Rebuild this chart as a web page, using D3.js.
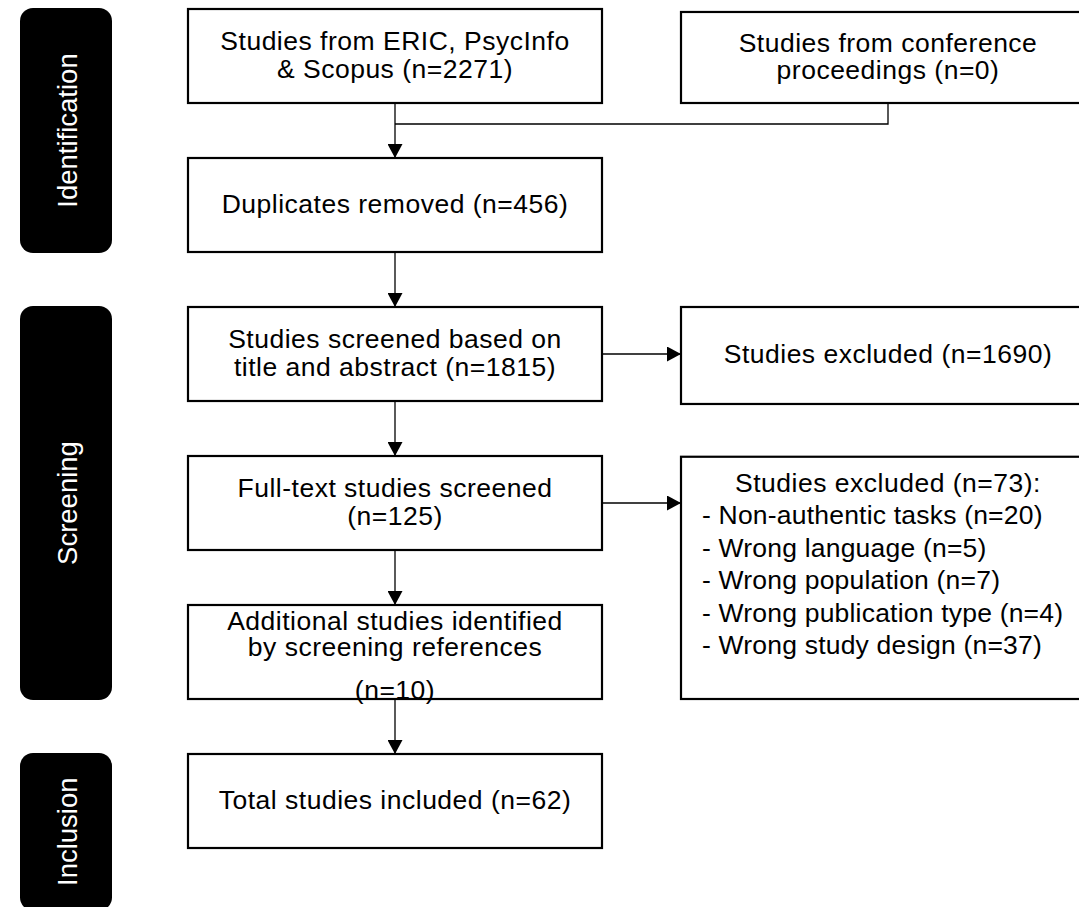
<!DOCTYPE html>
<html>
<head>
<meta charset="utf-8">
<script src="https://cdn.jsdelivr.net/npm/d3@7/dist/d3.min.js"></script>
<style>
  html, body { margin: 0; padding: 0; background: #ffffff; }
  svg { display: block; }
</style>
</head>
<body>
<svg id="chart" width="1079" height="907"></svg>
<script>
// ---------------- data ----------------
const stages = ["Identification", "Screening", "Inclusion"];
const stageRows = [[0, 1], [2, 4], [5, 6.05]];

const boxIds     = ["db", "conf", "dup", "screen", "excl1", "full", "excl2", "add", "incl"];
const boxCounts  = [2271, 0, 456, 1815, 1690, 125, 73, 10, 62];
const boxLines   = [
  ["Studies from ERIC, PsycInfo", "& Scopus (n=#)"],
  ["Studies from conference", "proceedings (n=#)"],
  ["Duplicates removed (n=#)"],
  ["Studies screened based on", "title and abstract (n=#)"],
  ["Studies excluded (n=#)"],
  ["Full-text studies screened", "(n=#)"],
  ["Studies excluded (n=#):"],
  ["Additional studies identified", "by screening references", "(n=#)"],
  ["Total studies included (n=#)"]
];
const boxColumn  = [0, 1, 0, 0, 1, 0, 1, 0, 0];
const boxRowFrom = [0, 0.02, 1, 2, 2, 3, 3.005, 4, 5];
const boxRowTo   = [0, 0, 1, 2, 2.02, 3, 4, 4, 5];

const exclusionReasons = ["Non-authentic tasks", "Wrong language", "Wrong population",
                          "Wrong publication type", "Wrong study design"];
const exclusionCounts  = [20, 5, 7, 4, 37];

// flow links: [from box, to box, type]
const links = [
  ["db", "dup", "down"],
  ["conf", "dup", "merge"],
  ["dup", "screen", "down"],
  ["screen", "full", "down"],
  ["full", "add", "down"],
  ["add", "incl", "down"],
  ["screen", "excl1", "right"],
  ["full", "excl2", "right"]
];

// ---------------- layout scales ----------------
const W = 1079, H = 907;
const FS = 26.5;
const LS = 0.5;
const FONT = "'Liberation Sans', Arial, Helvetica, sans-serif";
const rowY = d3.scaleLinear().domain([0, 5]).range([9, 754]);
const boxH = 94;
const colX = d3.scaleOrdinal().domain([0, 1]).range([188, 681]);
const boxW = 414;
const stageX = 20, stageW = 92;

const svg = d3.select("#chart");
svg.append("rect").attr("width", W).attr("height", H).attr("fill", "#fff");

const defs = svg.append("defs");
defs.append("marker").attr("id", "arr")
  .attr("viewBox", "0 0 14 15").attr("refX", 14).attr("refY", 7.5)
  .attr("markerWidth", 14).attr("markerHeight", 15)
  .attr("markerUnits", "userSpaceOnUse").attr("orient", "auto")
  .append("path").attr("d", "M0,0 L14,7.5 L0,15 Z").attr("fill", "#000");

// boxes geometry
const boxes = boxIds.map((id, i) => {
  const x = colX(boxColumn[i]);
  const y0 = rowY(boxRowFrom[i]);
  const y1 = rowY(boxRowTo[i]) + boxH;
  return { id, i, x, y: y0, w: boxW, h: y1 - y0, cx: x + boxW / 2, cy: (y0 + y1) / 2 };
});
const byId = Object.fromEntries(boxes.map(b => [b.id, b]));

// ---------------- stage pills ----------------
const pills = svg.append("g");
stages.forEach((s, i) => {
  const y0 = rowY(stageRows[i][0]) - 1;
  const y1 = i === 2 ? rowY(stageRows[i][1]) : rowY(stageRows[i][1]) + boxH + 1;
  pills.append("rect").attr("x", stageX).attr("y", y0)
    .attr("width", stageW).attr("height", y1 - y0)
    .attr("rx", 13).attr("ry", 13).attr("fill", "#000");
  const cx = stageX + stageW / 2 + 1, cy = (y0 + y1) / 2;
  pills.append("text")
    .attr("transform", `translate(${cx + 9.5},${cy}) rotate(-90)`)
    .attr("text-anchor", "middle")
    .attr("fill", "#fff").attr("font-family", FONT).attr("font-size", 27.5)
    .text(s);
});

// ---------------- links ----------------
const lg = svg.append("g").attr("stroke", "#000").attr("stroke-width", 1.3).attr("fill", "none");
const mergeY = byId.db.y + byId.db.h + 21;
links.forEach(([a, b, t]) => {
  const A = byId[a], B = byId[b];
  let d;
  if (t === "down") {
    d = d3.line()([[A.cx, A.y + A.h], [B.cx, B.y]]);
  } else if (t === "merge") {
    d = d3.line()([[A.cx, A.y + A.h], [A.cx, mergeY], [B.cx, mergeY]]);
  } else {
    d = d3.line()([[A.x + A.w, A.cy], [B.x, A.cy]]);
  }
  const p = lg.append("path").attr("d", d);
  if (t !== "merge") p.attr("marker-end", "url(#arr)");
});

// ---------------- boxes ----------------
const bg = svg.append("g");
boxes.forEach(b => {
  bg.append("rect").attr("x", b.x).attr("y", b.y).attr("width", b.w).attr("height", b.h)
    .attr("fill", "none").attr("stroke", "#000").attr("stroke-width", 2.2);
});

// ---------------- texts ----------------
const tg = svg.append("g").attr("font-family", FONT).attr("font-size", FS)
  .attr("letter-spacing", LS).attr("fill", "#000");
const PITCH = 27.5;
boxes.forEach(b => {
  const lines = boxLines[b.i].map(l => l.replace("#", boxCounts[b.i]));
  if (b.id === "excl2") {
    const top = b.y + 35;
    tg.append("text").attr("x", b.cx).attr("y", top).attr("text-anchor", "middle").text(lines[0]);
    exclusionReasons.forEach((r, k) => {
      tg.append("text").attr("x", b.x + 21).attr("y", top + (k + 1) * 32.5)
        .attr("letter-spacing", 0.2)
        .text(`- ${r} (n=${exclusionCounts[k]})`);
    });
    return;
  }
  const n = lines.length;
  lines.forEach((l, k) => {
    let y = b.cy + 9 + (k - (n - 1) / 2) * PITCH - 1;
    if (b.id === "add") y = b.y + 25 + k * 26 + (k === 2 ? 17 : 0);
    tg.append("text").attr("x", b.cx).attr("y", y).attr("text-anchor", "middle").text(l);
  });
});
</script>
</body>
</html>
